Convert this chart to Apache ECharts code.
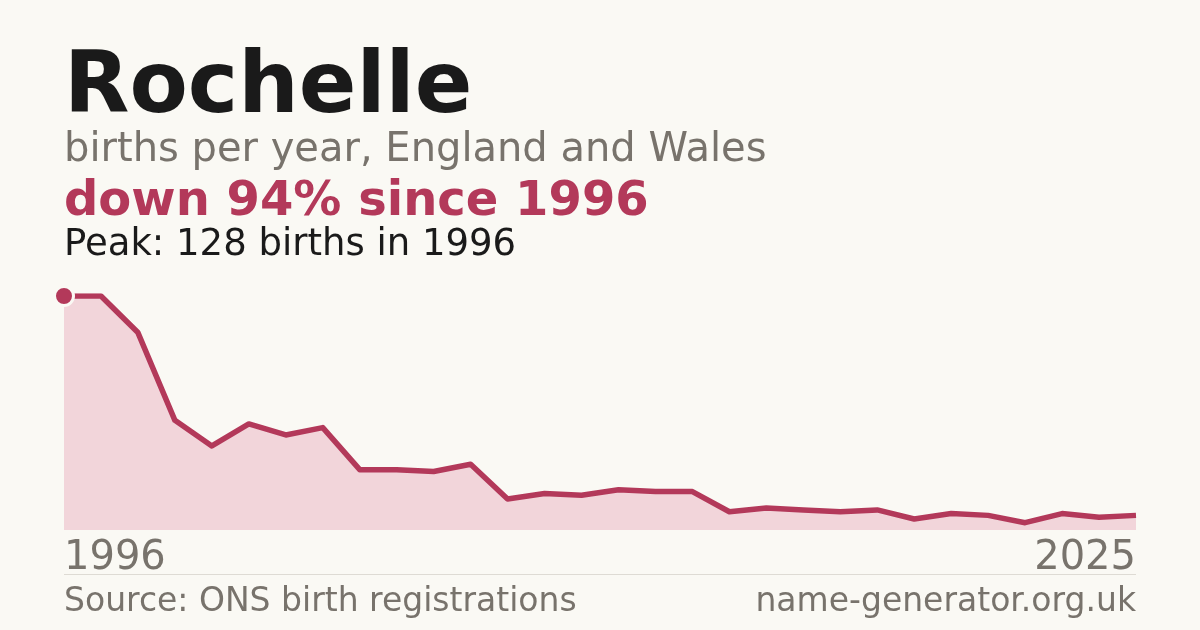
<!DOCTYPE html>
<html>
<head>
<meta charset="utf-8">
<script src="https://cdn.jsdelivr.net/npm/echarts@6/dist/echarts.min.js"></script>
<style>
  html, body { margin: 0; padding: 0; background: #faf9f4; }
  #chart { width: 1200px; height: 630px; }
</style>
</head>
<body>
<div id="chart"></div>
<script>
// births per year for "Rochelle"
var years = ['1996', '1997', '1998', '1999', '2000', '2001', '2002', '2003', '2004', '2005',
  '2006', '2007', '2008', '2009', '2010', '2011', '2012', '2013', '2014', '2015',
  '2016', '2017', '2018', '2019', '2020', '2021', '2022', '2023', '2024', '2025'];
var births = [128, 128, 108, 60, 46, 58, 52, 56, 33, 33,
  32, 36, 17, 20, 19, 22, 21, 21, 10, 12,
  11, 10, 11, 6, 9, 8, 4, 9, 7, 8];

var peakIndex = 0;
for (var i = 1; i < births.length; i++) {
  if (births[i] > births[peakIndex]) peakIndex = i;
}

var font = 'DejaVu Sans';
var red = '#b3395a';
var grey = '#78736c';

var chart = echarts.init(document.getElementById('chart'));

chart.setOption({
  backgroundColor: '#faf9f4',
  animation: false,
  grid: { left: 64, right: 64, top: 296, bottom: 100 },
  xAxis: {
    type: 'category',
    data: years,
    boundaryGap: false,
    axisLine: { show: false },
    axisTick: { show: false },
    splitLine: { show: false },
    axisLabel: {
      interval: function (idx) { return idx === 0 || idx === years.length - 1; },
      alignMinLabel: 'left',
      alignMaxLabel: 'right',
      margin: 9,
      color: grey,
      fontFamily: font,
      fontSize: 40
    }
  },
  yAxis: {
    type: 'value',
    min: 0,
    max: 128,
    show: false
  },
  series: [
    {
      type: 'line',
      data: births,
      symbol: 'none',
      lineStyle: { color: red, width: 5.5, join: 'round' },
      areaStyle: { color: '#f2d5da', opacity: 1 }
    },
    {
      type: 'scatter',
      data: [[years[peakIndex], births[peakIndex]]],
      symbol: 'circle',
      symbolSize: 19,
      z: 5,
      itemStyle: { color: red, borderColor: '#faf9f4', borderWidth: 3, opacity: 1 }
    }
  ],
  graphic: [
    {
      type: 'text', left: 64, top: 47,
      style: { text: 'Rochelle', fill: '#1a1a1a', font: 'bold 85px "DejaVu Sans"' }
    },
    {
      type: 'text', left: 64, top: 131,
      style: { text: 'births per year, England and Wales', fill: grey, font: '40px "DejaVu Sans"' }
    },
    {
      type: 'text', left: 64, top: 179,
      style: { text: 'down 94% since 1996', fill: red, font: 'bold 48px "DejaVu Sans"' }
    },
    {
      type: 'text', left: 64, top: 227,
      style: { text: 'Peak: 128 births in 1996', fill: '#1a1a1a', font: '37px "DejaVu Sans"' }
    },
    {
      type: 'line',
      shape: { x1: 64, y1: 574.5, x2: 1136, y2: 574.5 },
      style: { stroke: '#dedbd4', lineWidth: 1 }
    },
    {
      type: 'text', left: 64, top: 586,
      style: { text: 'Source: ONS birth registrations', fill: grey, font: '33px "DejaVu Sans"' }
    },
    {
      type: 'text', right: 64, top: 586,
      style: { text: 'name-generator.org.uk', fill: grey, font: '33px "DejaVu Sans"' }
    }
  ]
});
</script>
</body>
</html>
